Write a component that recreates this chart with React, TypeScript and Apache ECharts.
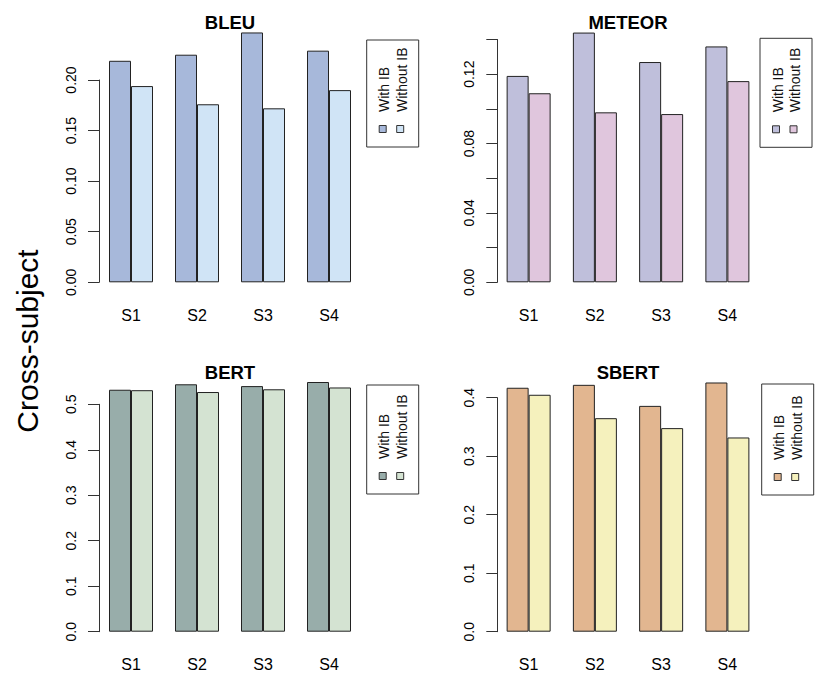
import React, { useEffect, useRef } from "react";
import * as echarts from "echarts";

const categories = ["S1", "S2", "S3", "S4"];
const legendLabels = ["With IB", "Without IB"];
const panelTitles = ["BLEU", "METEOR", "BERT", "SBERT"];

const bleuWith = [0.219, 0.225, 0.247, 0.229];
const bleuWithout = [0.194, 0.176, 0.172, 0.19];
const meteorWith = [0.119, 0.144, 0.127, 0.136];
const meteorWithout = [0.109, 0.098, 0.097, 0.116];
const bertWith = [0.532, 0.544, 0.54, 0.549];
const bertWithout = [0.531, 0.527, 0.533, 0.537];
const sbertWith = [0.417, 0.422, 0.386, 0.426];
const sbertWithout = [0.405, 0.365, 0.348, 0.332];

const axisMax = [0.2, 0.14, 0.5, 0.4];
const axisInterval = [0.05, 0.02, 0.1, 0.1];
const labelStep = [0.05, 0.04, 0.1, 0.1];
const labelDigits = [2, 2, 1, 1];

const FONT = "Liberation Sans, Arial, Helvetica, sans-serif";

const panels = [
  { title: panelTitles[0], a: bleuWith, b: bleuWithout, ca: "#A7B8DA", cb: "#D0E4F6", left: 98, top: 80, height: 202.3, width: 264, titleX: 230, titleY: 22.5, off: -1, lx: 366.7, ly: 40, lw: 52, lh: 107 },
  { title: panelTitles[1], a: meteorWith, b: meteorWithout, ca: "#BFBFDB", cb: "#E0C6DD", left: 495.5, top: 39.5, height: 242.8, width: 265, titleX: 628, titleY: 22.5, off: -1.8, lx: 760, ly: 38.3, lw: 52, lh: 109 },
  { title: panelTitles[2], a: bertWith, b: bertWithout, ca: "#98ADAA", cb: "#D4E3D2", left: 98, top: 404.3, height: 227.4, width: 264, titleX: 230, titleY: 372, off: -1, lx: 366.7, ly: 385, lw: 52, lh: 109 },
  { title: panelTitles[3], a: sbertWith, b: sbertWithout, ca: "#E2B690", cb: "#F5F1BD", left: 495.5, top: 397.7, height: 234, width: 265, titleX: 628, titleY: 372.5, off: -1.8, lx: 761.7, ly: 384, lw: 52, lh: 111 },
];

export default function App() {
  const ref = useRef<HTMLDivElement>(null);
  useEffect(() => {
    if (!ref.current) return;
    const chart = echarts.init(ref.current, undefined, { renderer: "svg" });
    const grid: any[] = [];
    const xAxis: any[] = [];
    const yAxis: any[] = [];
    const series: any[] = [];
    const graphic: any[] = [];
    panels.forEach((p, i) => {
      grid.push({ left: p.left, top: p.top, width: p.width, height: p.height, containLabel: false });
      xAxis.push({
        type: "category",
        gridIndex: i,
        data: categories,
        axisLine: { show: false },
        axisTick: { show: false },
        axisLabel: { color: "#000", fontSize: 16, fontFamily: FONT, margin: 25 },
      });
      const step = labelStep[i];
      const digits = labelDigits[i];
      yAxis.push({
        type: "value",
        gridIndex: i,
        min: 0,
        max: axisMax[i],
        interval: axisInterval[i],
        offset: p.off,
        splitLine: { show: false },
        axisLine: { show: true, lineStyle: { color: "#333", width: 1 } },
        axisTick: { show: true, length: 11, lineStyle: { color: "#333", width: 1 } },
        axisLabel: {
          rotate: 90,
          margin: 21,
          color: "#000",
          fontSize: 14,
          fontFamily: FONT,
          formatter: (v: number) => {
            const r = Math.round(v / step * 1000) / 1000;
            return Math.abs(r - Math.round(r)) < 1e-6 ? v.toFixed(digits) : "";
          },
        },
      });
      [p.a, p.b].forEach((vals, k) => {
        series.push({
          type: "bar",
          name: legendLabels[k],
          xAxisIndex: i,
          yAxisIndex: i,
          data: vals,
          barWidth: 22,
          barGap: "0%",
          clip: false,
          itemStyle: { color: k === 0 ? p.ca : p.cb, borderColor: "#222", borderWidth: 1 },
          emphasis: { disabled: true },
        });
      });
      graphic.push({
        type: "text",
        x: p.titleX,
        y: p.titleY,
        style: { text: p.title, font: `bold 18.5px ${FONT}`, fill: "#000", textAlign: "center", textVerticalAlign: "middle" },
      });
      graphic.push({
        type: "rect",
        shape: { x: p.lx, y: p.ly, width: p.lw, height: p.lh },
        style: { fill: "#fff", stroke: "#333", lineWidth: 1 },
      });
      const cols = [16, 33.5];
      [p.ca, p.cb].forEach((c, k) => {
        graphic.push({
          type: "rect",
          shape: { x: p.lx + cols[k] - 3.5, y: p.ly + p.lh - 21.5, width: 7, height: 7 },
          style: { fill: c, stroke: "#333", lineWidth: 1 },
        });
        graphic.push({
          type: "text",
          x: p.lx + cols[k] + 1.5,
          y: p.ly + p.lh - 35,
          rotation: Math.PI / 2,
          style: { text: legendLabels[k], font: `14px ${FONT}`, fill: "#111", textAlign: "left", textVerticalAlign: "middle" },
        });
      });
    });
    graphic.push({
      type: "text",
      x: 27,
      y: 341,
      rotation: Math.PI / 2,
      style: { text: "Cross-subject", font: `30px ${FONT}`, fill: "#000", textAlign: "center", textVerticalAlign: "middle" },
    });
    chart.setOption({
      animation: false,
      backgroundColor: "#fff",
      grid,
      xAxis,
      yAxis,
      series,
      graphic,
    });
    return () => chart.dispose();
  }, []);
  return <div ref={ref} style={{ position: "absolute", left: 0, top: 0, width: 830, height: 683 }} />;
}
